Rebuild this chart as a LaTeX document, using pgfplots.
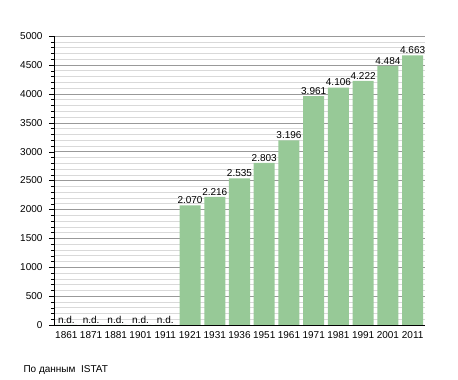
\documentclass[border=0pt]{standalone}
\usepackage{fontspec}
\setmainfont{Liberation Sans}
\usepackage{pgfplots}
\pgfplotsset{compat=1.18}
\usepackage{pgfplotstable}
\definecolor{bargreen}{RGB}{151,201,151}
\pgfplotstableread{
x y lab
0 0 n.d.
1 0 n.d.
2 0 n.d.
3 0 n.d.
4 0 n.d.
5 2070 2.070
6 2216 2.216
7 2535 2.535
8 2803 2.803
9 3196 3.196
10 3961 3.961
11 4106 4.106
12 4222 4.222
13 4484 4.484
14 4663 4.663
}\data
\begin{document}
\begin{tikzpicture}
\useasboundingbox (-54pt,-55pt) rectangle (404pt,325pt);
\begin{axis}[
  anchor=south west,
  scale only axis, width=371pt, height=289pt,
  xmin=-0.5, xmax=14.5, ymin=0, ymax=5000,
  axis x line*=bottom, axis y line*=left,
  axis line style={-, black},
  ytick={0,500,...,5000},
  minor y tick num=4,
  ymajorgrids, yminorgrids,
  major grid style={draw=black!40},
  minor grid style={draw=black!15},
  tick align=outside,
  major tick length=5pt, minor tick length=3pt,
  tick style={black},
  xtick={0,...,14},
  xticklabels={1861,1871,1881,1901,1911,1921,1931,1936,1951,1961,1971,1981,1991,2001,2011},
  x tick style={draw=none},
  ticklabel style={font=\fontsize{10}{11}\selectfont},
  xticklabel style={inner sep=1.5pt},
  /pgf/number format/assume math mode=true,
  /pgf/number format/1000 sep={},
  yticklabel style={xshift=-3pt},
  ybar, bar width=0.85,
  nodes near coords,
  point meta=explicit symbolic,
  nodes near coords style={font=\fontsize{10}{11}\selectfont, inner sep=1.5pt},
]
\addplot[fill=bargreen, draw=none] table[x=x, y=y, meta=lab] {\data};
\end{axis}
\node[anchor=base west, font=\fontsize{10}{11}\selectfont] at (-34pt,-48pt) {По данным\ \ ISTAT};
\end{tikzpicture}
\end{document}
